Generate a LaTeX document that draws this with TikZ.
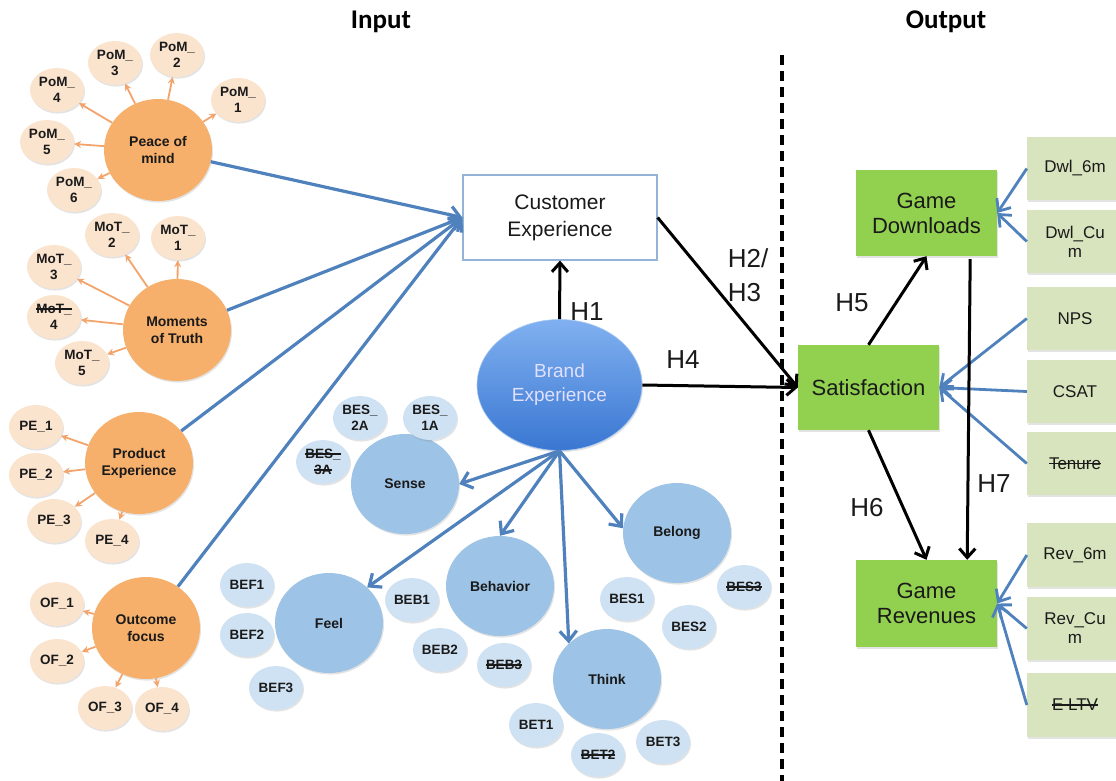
\documentclass[tikz,border=0pt]{standalone}
\usepackage{fontspec}
\setmainfont{Liberation Sans}
\newfontfamily\titlefont{Carlito}
\usetikzlibrary{shapes.geometric,arrows.meta,shadows,calc}

\definecolor{orangeMain}{HTML}{F6B06C}
\definecolor{orangeSmall}{HTML}{FBE4CE}
\definecolor{orangeLine}{HTML}{F2A46C}
\definecolor{blueMain}{HTML}{9DC3E6}
\definecolor{blueSmall}{HTML}{CFE2F3}
\definecolor{blueLine}{HTML}{4F81BD}
\definecolor{beTop}{HTML}{80B0F0}
\definecolor{beBottom}{HTML}{3A77D2}
\definecolor{greenMain}{HTML}{92D050}
\definecolor{greenLight}{HTML}{D7E4BD}
\definecolor{ceBorder}{HTML}{95B3D7}
\definecolor{txt}{HTML}{1A1A1A}

% struck-through text
\newsavebox\strkbox
\newcommand\strk[1]{\sbox\strkbox{#1}\rlap{\rule[0.3em]{\wd\strkbox}{0.09em}}\usebox\strkbox}

\tikzset{
  shad/.style={drop shadow={shadow xshift=1pt, shadow yshift=-1.6pt, opacity=0.22}},
  bigO/.style={ellipse, fill=orangeMain, minimum width=108pt, minimum height=102pt, inner sep=0pt,
    font=\bfseries\fontsize{14}{17}\selectfont, text=txt, align=center, shad},
  smO/.style={ellipse, fill=orangeSmall, minimum width=54pt, minimum height=44pt, inner sep=0pt,
    font=\bfseries\fontsize{13.5}{16}\selectfont, text=txt, align=center, shad},
  bigB/.style={ellipse, fill=blueMain, minimum width=108pt, minimum height=100pt, inner sep=0pt,
    font=\bfseries\fontsize{14}{17}\selectfont, text=txt, align=center, shad},
  smB/.style={ellipse, fill=blueSmall, minimum width=54pt, minimum height=44pt, inner sep=0pt,
    font=\bfseries\fontsize{13.5}{16}\selectfont, text=txt, align=center, shad},
  greenbox/.style={rectangle, fill=greenMain, minimum width=141pt, minimum height=86pt, inner sep=0pt,
    font=\fontsize{22}{25}\selectfont, text=txt, align=center, shad},
  metric/.style={rectangle, fill=greenLight, minimum width=96pt, minimum height=63pt, inner sep=0pt,
    font=\fontsize{17}{19}\selectfont, text=txt, align=center, shad},
  oarr/.style={draw=orangeLine, line width=1.8pt, -{Stealth[length=7pt,width=7pt]}},
  barr/.style={draw=blueLine, line width=3.2pt, -{Straight Barb[length=10pt,width=17pt]}},
  karr/.style={draw=black, line width=3pt, -{Straight Barb[length=9pt,width=16pt]}},
  hlab/.style={font=\fontsize{26}{34}\selectfont, text=txt, align=left, inner sep=0pt},
  ttl/.style={font=\titlefont\bfseries\fontsize{27}{30}\selectfont, text=black},
}

\begin{document}
\begin{tikzpicture}[x=1pt,y=-1pt]
\useasboundingbox (0,0) rectangle (1116,780);
\clip (0,0) rectangle (1116,780);

% headings
\node[ttl] (tin) at (381,22) {Input};
\node[ttl] (tout) at (946,22) {Output};

% divider between input and output
\coordinate (divTop) at (782,55);
\coordinate (divBot) at (782,785);
\draw[line width=3.2pt, dash pattern=on 10pt off 6pt] (divTop) -- (divBot);

% ---------- orange constructs ----------
\node[bigO] (pom) at (158,150) {Peace of\\mind};
\node[smO] (pm1) at (238,100) {PoM\_\\1};
\node[smO] (pm2) at (177,55) {PoM\_\\2};
\node[smO] (pm3) at (115,63) {PoM\_\\3};
\node[smO] (pm4) at (57,90) {PoM\_\\4};
\node[smO] (pm5) at (47,142) {PoM\_\\5};
\node[smO] (pm6) at (74,190) {PoM\_\\6};

\node[bigO] (mot) at (177,330) {Moments\\of Truth};
\node[smO] (mt1) at (178,238) {MoT\_\\1};
\node[smO] (mt2) at (112,235) {MoT\_\\2};
\node[smO] (mt3) at (54,267) {MoT\_\\3};
\node[smO] (mt4) at (54,317) {\strk{MoT\_}\\4};
\node[smO] (mt5) at (82,363) {MoT\_\\5};

\node[bigO] (pex) at (139,463) {Product\\Experience};
\node[smO] (pe1) at (36,427) {PE\_1};
\node[smO] (pe2) at (36,475) {PE\_2};
\node[smO] (pe3) at (54,521) {PE\_3};
\node[smO] (pe4) at (112,541) {PE\_4};

\node[bigO] (ofc) at (146,628) {Outcome\\focus};
\node[smO] (of1) at (57,604) {OF\_1};
\node[smO] (of2) at (57,661) {OF\_2};
\node[smO] (of3) at (105,708) {OF\_3};
\node[smO] (of4) at (162,709) {OF\_4};

\foreach \s in {pm1,pm2,pm3,pm4,pm5,pm6} \draw[oarr] (pom) -- (\s);
\foreach \s in {mt1,mt2,mt3,mt4,mt5} \draw[oarr] (mot) -- (\s);
\foreach \s in {pe1,pe2,pe3,pe4} \draw[oarr] (pex) -- (\s);
\foreach \s in {of1,of2,of3,of4} \draw[oarr] (ofc) -- (\s);

% ---------- central constructs ----------
\node[rectangle, draw=ceBorder, line width=1.2pt, fill=white, minimum width=194pt, minimum height=85pt,
  font=\fontsize{21}{27}\selectfont, text=txt, align=center] (ce) at (560,217.5) {Customer\\Experience};

\node[ellipse, top color=beTop, bottom color=beBottom, draw=beTop!70!white, line width=0.6pt,
  minimum width=165pt, minimum height=131pt, inner sep=0pt, shad,
  font=\fontsize{19}{24}\selectfont, text=white!88!blue, align=center] (be) at (559.5,385) {Brand\\Experience};

\node[bigB] (sense) at (405,484) {Sense};
\node[bigB] (feel) at (329,623) {Feel};
\node[bigB] (beh) at (500,586) {Behavior};
\node[bigB] (think) at (607,679) {Think};
\node[bigB] (belong) at (677,533) {Belong};

\node[smB] (bes2a) at (360,418) {BES\_\\2A};
\node[smB] (bes1a) at (430,418) {BES\_\\1A};
\node[smB] (bes3a) at (323,462) {\strk{BES\_}\\\strk{3A}};
\node[smB] (bef1) at (247,585) {BEF1};
\node[smB] (bef2) at (247,635) {BEF2};
\node[smB] (bef3) at (276,688) {BEF3};
\node[smB] (beb1) at (412,600) {BEB1};
\node[smB] (beb2) at (440,650) {BEB2};
\node[smB] (beb3) at (504,665) {\strk{BEB3}};
\node[smB] (bet1) at (536,725) {BET1};
\node[smB] (bet2) at (598,755) {\strk{BET2}};
\node[smB] (bet3) at (663,742) {BET3};
\node[smB] (bes1) at (627,599) {BES1};
\node[smB] (bes2) at (689,627) {BES2};
\node[smB] (bes3) at (744,587) {\strk{BES3}};

% inputs into customer experience
\draw[barr] (pom) -- (ce.west);
\draw[barr] (mot) -- (ce.west);
\draw[barr] (pex) -- (ce.west);
\draw[barr] (ofc) -- (ce.west);

% brand experience dimensions
\draw[barr] (be.south) -- (sense.east);
\draw[barr] (be.south) -- (feel.43);
\draw[barr] (be.south) -- (beh.north);
\draw[barr] (be.south) -- (think.137);
\draw[barr] (be.south) -- (belong.175);

% ---------- output constructs ----------
\node[greenbox] (gd) at (926.5,213) {Game\\Downloads};
\node[greenbox, minimum height=85pt] (sat) at (868.5,387.5) {Satisfaction};
\node[greenbox, minimum height=87pt] (gr) at (926.5,603.5) {Game\\Revenues};

\node[metric] (dw6) at (1075,168.5) {Dwl\_6m};
\node[metric] (dwc) at (1075,241.5) {Dwl\_Cu\\m};
\node[metric] (nps) at (1075,318.5) {NPS};
\node[metric] (csat) at (1075,391.5) {CSAT};
\node[metric] (ten) at (1075,463.5) {\strk{Tenure}};
\node[metric, minimum height=64pt] (rv6) at (1075,555) {Rev\_6m};
\node[metric] (rvc) at (1075,628.5) {Rev\_Cu\\m};
\node[metric, minimum height=64pt] (eltv) at (1075,705) {\strk{E LTV}};

\draw[barr, line width=2.8pt] (dw6.west) -- (gd.east);
\draw[barr, line width=2.8pt] (dwc.west) -- (gd.east);
\draw[barr, line width=2.8pt] (nps.west) -- (sat.east);
\draw[barr, line width=2.8pt] (csat.west) -- (sat.east);
\draw[barr, line width=2.8pt] (ten.west) -- (sat.east);
\draw[barr, line width=2.8pt] (rv6.west) -- (gr.east);
\draw[barr, line width=2.8pt] (rvc.west) -- (gr.east);
\draw[barr, line width=2.8pt] (eltv.west) -- (gr.east);

% hypotheses
\draw[karr] (be.north) -- (ce.south);
\draw[karr] (ce.east) -- (sat.west);
\draw[karr] (be.east) -- (sat.west);
\draw[karr] (sat.north) -- (gd.south);
\draw[karr] (sat.south) -- (gr.north);
\draw[karr] ([xshift=-27pt,yshift=-3pt]gd.south east) -- ([xshift=-30pt]gr.north east);

\node[hlab] (h1) at (587,312) {H1};
\node[hlab] (h23) at (748,275) {H2/\\H3};
\node[hlab] (h4) at (683,360) {H4};
\node[hlab] (h5) at (852,303) {H5};
\node[hlab] (h6) at (867,508) {H6};
\node[hlab] (h7) at (994,484) {H7};
\end{tikzpicture}
\end{document}
